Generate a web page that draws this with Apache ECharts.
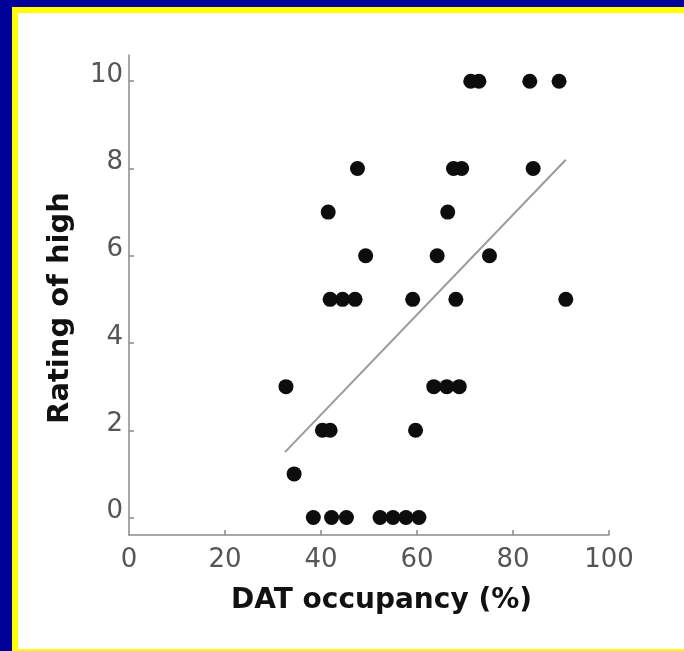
<!DOCTYPE html>
<html>
<head>
<meta charset="utf-8">
<script src="https://cdn.jsdelivr.net/npm/echarts@6/dist/echarts.min.js"></script>
<style>
  html, body { margin: 0; padding: 0; width: 684px; height: 651px; overflow: hidden; background: #000099; }
  #yellow { position: absolute; left: 12px; top: 7px; width: 672px; height: 644px; background: #ffff00; }
  #white { position: absolute; left: 18px; top: 13px; width: 666px; height: 636px; background: #ffffff; }
  #chart { position: absolute; left: 0; top: 0; width: 684px; height: 651px; }
</style>
</head>
<body>
<div id="yellow"></div>
<div id="white"></div>
<div id="chart"></div>
<script>
// DAT occupancy (%) vs rating of high
const occupancy = [71.2, 72.9, 83.5, 89.6,
                   47.6, 67.6, 69.3, 84.2,
                   41.5, 66.4,
                   49.3, 64.2, 75.1,
                   41.9, 44.5, 47.1, 59.1, 68.1, 91.0,
                   32.7, 63.5, 66.2, 68.8,
                   40.3, 41.9, 59.7,
                   34.4,
                   38.4, 42.2, 45.3, 52.3, 55.0, 57.7, 60.4];
const rating =    [10, 10, 10, 10,
                   8, 8, 8, 8,
                   7, 7,
                   6, 6, 6,
                   5, 5, 5, 5, 5, 5,
                   3, 3, 3, 3,
                   2, 2, 2,
                   1,
                   0, 0, 0, 0, 0, 0, 0];
const fitX = [32.5, 91.0];
const fitY = [1.5, 8.2];
const xTicks = [0, 20, 40, 60, 80, 100];
const yTicks = [0, 2, 4, 6, 8, 10];

const chart = echarts.init(document.getElementById('chart'), null, { renderer: 'canvas' });
const axisGray = '#8a8a8a';
const labelStyle = { color: '#555', fontFamily: 'DejaVu Sans', fontSize: 26 };
chart.setOption({
  backgroundColor: 'transparent',
  animation: false,
  grid: { left: 129, right: 75, top: 55, bottom: 116 },
  xAxis: {
    type: 'value', min: 0, max: 100,
    name: 'DAT occupancy (%)', nameLocation: 'middle', nameGap: 52,
    nameTextStyle: { color: '#111', fontFamily: 'DejaVu Sans', fontWeight: 'bold', fontSize: 28, padding: [0, 0, 0, 25] },
    axisLine: { show: true, onZero: false, lineStyle: { color: axisGray, width: 1.5 } },
    axisTick: { show: true, inside: true, length: 5, customValues: [20, 40, 60, 80, 100], lineStyle: { color: axisGray, width: 1.5 } },
    axisLabel: Object.assign({ margin: 12, customValues: xTicks }, labelStyle),
    splitLine: { show: false }
  },
  yAxis: {
    type: 'value', min: -0.4, max: 10.6,
    name: 'Rating of high', nameLocation: 'middle', nameGap: 54,
    nameTextStyle: { color: '#111', fontFamily: 'DejaVu Sans', fontWeight: 'bold', fontSize: 29, padding: [0, 26, 0, 0] },
    axisLine: { show: true, onZero: false, lineStyle: { color: axisGray, width: 1.5 } },
    axisTick: { show: true, inside: true, length: 5, customValues: yTicks, lineStyle: { color: axisGray, width: 1.5 } },
    axisLabel: Object.assign({ margin: 6, customValues: yTicks, verticalAlign: 'bottom', lineHeight: 12 }, labelStyle),
    splitLine: { show: false }
  },
  series: [
    {
      type: 'line',
      data: fitX.map((x, i) => [x, fitY[i]]),
      symbol: 'none',
      lineStyle: { color: '#9a9a9a', width: 2 },
      z: 1
    },
    {
      type: 'scatter',
      data: occupancy.map((x, i) => [x, rating[i]]),
      symbol: 'circle',
      symbolSize: 15,
      itemStyle: { color: '#0d0d0d', opacity: 1 },
      z: 2
    }
  ]
});
</script>
</body>
</html>
